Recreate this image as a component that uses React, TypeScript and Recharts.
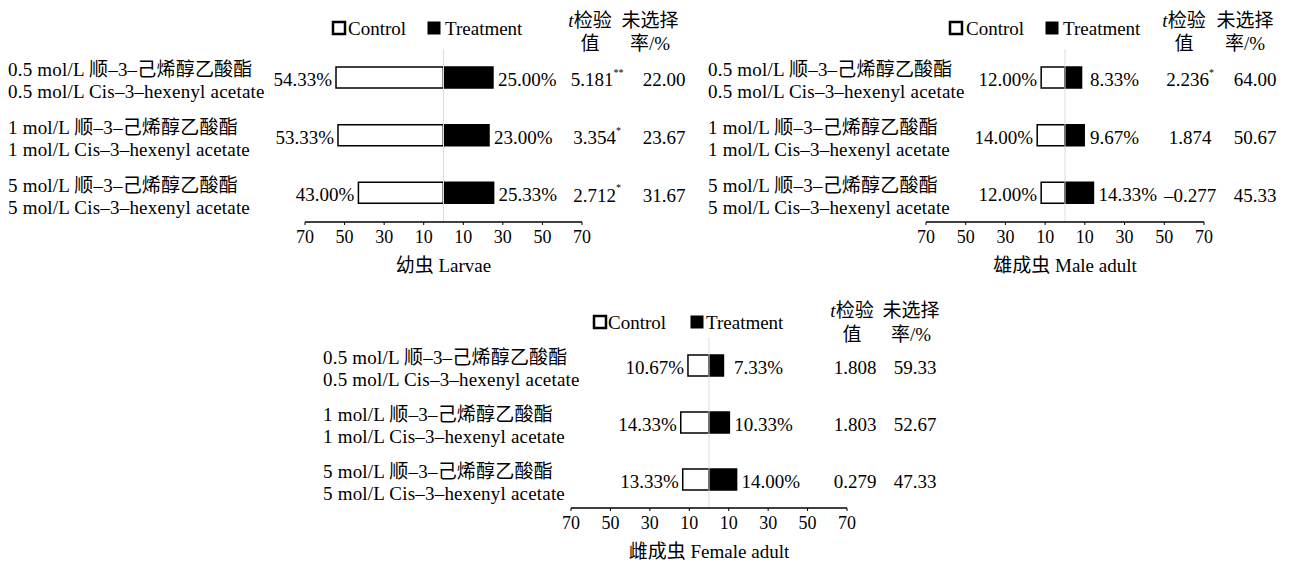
import React from 'react';
import { BarChart, Bar, XAxis, YAxis, ReferenceLine, LabelList } from 'recharts';

const categoriesCN = ['0.5 mol/L 顺–3–己烯醇乙酸酯', '1 mol/L 顺–3–己烯醇乙酸酯', '5 mol/L 顺–3–己烯醇乙酸酯'];
const categoriesEN = ['0.5 mol/L Cis–3–hexenyl acetate', '1 mol/L Cis–3–hexenyl acetate', '5 mol/L Cis–3–hexenyl acetate'];
const xTicks = [-70, -50, -30, -10, 10, 30, 50, 70];
const legendLabels = ['Control', 'Treatment'];

const larvaeControl = [54.33, 53.33, 43.0];
const larvaeTreatment = [25.0, 23.0, 25.33];
const larvaeT = ['5.181', '3.354', '2.712'];
const larvaeSig = ['**', '*', '*'];
const larvaeUnselected = ['22.00', '23.67', '31.67'];

const maleControl = [12.0, 14.0, 12.0];
const maleTreatment = [8.33, 9.67, 14.33];
const maleT = ['2.236', '1.874', '–0.277'];
const maleSig = ['*', '', ''];
const maleUnselected = ['64.00', '50.67', '45.33'];

const femaleControl = [10.67, 14.33, 13.33];
const femaleTreatment = [7.33, 10.33, 14.0];
const femaleT = ['1.808', '1.803', '0.279'];
const femaleSig = ['', '', ''];
const femaleUnselected = ['59.33', '52.67', '47.33'];

const FONT = '"Liberation Serif", "Times New Roman", "Noto Sans CJK SC", serif';
const FS = 19;
const TICK_FS = 18;

type Layout = {
  left: number; top: number; width: number; height: number;
  plotLeft: number; plotRight: number; plotTop: number; axisY: number;
  labelX: number; tX: number; rateX: number; tHeadX: number; rateHeadX: number;
  headY1: number; headY2: number; legendY: number;
  legSq1: number; legText1: number; legSq2: number; legText2: number;
};

type PanelProps = {
  title: string;
  control: number[];
  treatment: number[];
  tvals: string[];
  sig: string[];
  unselected: string[];
  L: Layout;
};

function Panel({ title, control, treatment, tvals, sig, unselected, L }: PanelProps) {
  const data = categoriesCN.map((name, i) => ({
    name,
    control: -control[i],
    treatment: treatment[i],
  }));
  const xAxisH = 50;
  const zeroX = (L.plotLeft + L.plotRight) / 2 - L.left;

  const CatTick = (props: any) => {
    const { y, payload } = props;
    const i = categoriesCN.indexOf(payload.value);
    const x = L.labelX - L.left;
    return (
      <g>
        <text x={x} y={y - 8} textAnchor="start" dominantBaseline="central" fontSize={FS} letterSpacing={0.2} fontFamily={FONT} fill="#000">
          {categoriesCN[i]}
        </text>
        <text x={x} y={y + 14} textAnchor="start" dominantBaseline="central" fontSize={FS} letterSpacing={0.2} fontFamily={FONT} fill="#000">
          {categoriesEN[i]}
        </text>
      </g>
    );
  };

  const StatTick = (props: any) => {
    const { y, payload } = props;
    const i = categoriesCN.indexOf(payload.value);
    return (
      <g>
        <text x={L.tX - L.left} y={y + 2} textAnchor="middle" dominantBaseline="central" fontSize={FS} fontFamily={FONT} fill="#000">
          {tvals[i]}
          {sig[i] ? <tspan fontSize={10} dy={-8}>{sig[i]}</tspan> : null}
        </text>
        <text x={L.rateX - L.left} y={y + 2} textAnchor="middle" dominantBaseline="central" fontSize={FS} fontFamily={FONT} fill="#000">
          {unselected[i]}
        </text>
      </g>
    );
  };

  const ControlLabel = (props: any) => {
    const { x, y, width, height, value } = props;
    const left = Math.min(x, x + width);
    return (
      <text x={left - 4} y={y + height / 2 + 2} textAnchor="end" dominantBaseline="central" fontSize={FS} fontFamily={FONT} fill="#000">
        {Math.abs(value).toFixed(2)}%
      </text>
    );
  };

  const TreatLabel = (props: any) => {
    const { x, y, width, height, value } = props;
    const right = Math.max(x, x + width);
    const lx = Math.max(right + 5, zeroX + 25);
    return (
      <text x={lx} y={y + height / 2 + 2} textAnchor="start" dominantBaseline="central" fontSize={FS} fontFamily={FONT} fill="#000">
        {Math.abs(value).toFixed(2)}%
      </text>
    );
  };

  return (
    <div style={{ position: 'absolute', left: L.left, top: L.top, width: L.width, height: L.height }}>
      <BarChart
        width={L.width}
        height={L.height}
        data={data}
        layout="vertical"
        stackOffset="sign"
        barSize={21}
        margin={{ top: L.plotTop - L.top, right: 0, bottom: L.height - (L.axisY - L.top) - xAxisH, left: 0 }}
      >
        <XAxis
          type="number"
          domain={[-70, 70]}
          ticks={xTicks}
          interval={0}
          allowDataOverflow
          tickFormatter={(v: number) => String(Math.abs(v))}
          height={xAxisH}
          axisLine={{ stroke: '#000', strokeWidth: 1.5 }}
          tickLine={{ stroke: '#000', strokeWidth: 1 }}
          tickSize={3}
          tickMargin={5}
          tick={{ fill: '#000', fontSize: TICK_FS, fontFamily: FONT }}
          label={{ value: title, position: 'insideBottom', offset: 0, fill: '#000', fontSize: FS, fontFamily: FONT }}
        />
        <YAxis
          yAxisId="left"
          type="category"
          dataKey="name"
          width={L.plotLeft - L.left}
          axisLine={false}
          tickLine={false}
          interval={0}
          tick={<CatTick />}
        />
        <YAxis
          yAxisId="right"
          orientation="right"
          type="category"
          dataKey="name"
          width={L.left + L.width - L.plotRight}
          axisLine={false}
          tickLine={false}
          interval={0}
          tick={<StatTick />}
        />
        <ReferenceLine x={0} yAxisId="left" stroke="#dcdcdc" strokeWidth={1} />
        <Bar dataKey="control" stackId="a" yAxisId="left" fill="#fff" stroke="#000" strokeWidth={1.5} isAnimationActive={false}>
          <LabelList dataKey="control" content={<ControlLabel />} />
        </Bar>
        <Bar dataKey="treatment" stackId="a" yAxisId="left" fill="#000" stroke="#000" strokeWidth={1.5} isAnimationActive={false}>
          <LabelList dataKey="treatment" content={<TreatLabel />} />
        </Bar>
      </BarChart>
      <svg
        width={L.width}
        height={L.height}
        style={{ position: 'absolute', left: 0, top: 0, pointerEvents: 'none' }}
      >
        <rect x={L.legSq1 - L.left} y={L.legendY - L.top - 6} width={12} height={12} fill="#fff" stroke="#000" strokeWidth={2.5} />
        <text x={L.legText1 - L.left} y={L.legendY - L.top} dominantBaseline="central" fontSize={FS} fontFamily={FONT} fill="#000">
          {legendLabels[0]}
        </text>
        <rect x={L.legSq2 - L.left} y={L.legendY - L.top - 6} width={12} height={12} fill="#000" stroke="#000" strokeWidth={1} />
        <text x={L.legText2 - L.left} y={L.legendY - L.top} dominantBaseline="central" fontSize={FS} fontFamily={FONT} fill="#000">
          {legendLabels[1]}
        </text>
        <text x={L.tHeadX - L.left} y={L.headY1 - L.top} textAnchor="middle" dominantBaseline="central" fontSize={FS} fontFamily={FONT} fill="#000">
          <tspan fontStyle="italic">t</tspan>检验
        </text>
        <text x={L.tHeadX - L.left} y={L.headY2 - L.top} textAnchor="middle" dominantBaseline="central" fontSize={FS} fontFamily={FONT} fill="#000">
          值
        </text>
        <text x={L.rateHeadX - L.left} y={L.headY1 - L.top} textAnchor="middle" dominantBaseline="central" fontSize={FS} fontFamily={FONT} fill="#000">
          未选择
        </text>
        <text x={L.rateHeadX - L.left} y={L.headY2 - L.top} textAnchor="middle" dominantBaseline="central" fontSize={FS} fontFamily={FONT} fill="#000">
          率/%
        </text>
      </svg>
    </div>
  );
}

const larvaeLayout: Layout = {
  left: 0, top: 0, width: 700, height: 280,
  plotLeft: 305, plotRight: 582, plotTop: 49, axisY: 222,
  labelX: 8, tX: 597, rateX: 664, tHeadX: 590, rateHeadX: 650,
  headY1: 20, headY2: 43, legendY: 28,
  legSq1: 333, legText1: 348, legSq2: 428, legText2: 445,
};

const maleLayout: Layout = {
  left: 690, top: 0, width: 601, height: 280,
  plotLeft: 926, plotRight: 1204, plotTop: 49, axisY: 222,
  labelX: 708, tX: 1190, rateX: 1255, tHeadX: 1184, rateHeadX: 1245,
  headY1: 20, headY2: 43, legendY: 28,
  legSq1: 950, legText1: 966, legSq2: 1046, legText2: 1063,
};

const femaleLayout: Layout = {
  left: 300, top: 290, width: 660, height: 275,
  plotLeft: 571, plotRight: 847, plotTop: 337, axisY: 508,
  labelX: 323, tX: 855, rateX: 915, tHeadX: 852, rateHeadX: 911,
  headY1: 310, headY2: 334, legendY: 322,
  legSq1: 594, legText1: 608, legSq2: 691, legText2: 706,
};

export default function App() {
  return (
    <div style={{ position: 'absolute', left: 0, top: 0, width: 1291, height: 565, background: '#fff', overflow: 'hidden' }}>
      <Panel title="幼虫 Larvae" control={larvaeControl} treatment={larvaeTreatment} tvals={larvaeT} sig={larvaeSig} unselected={larvaeUnselected} L={larvaeLayout} />
      <Panel title="雄成虫 Male adult" control={maleControl} treatment={maleTreatment} tvals={maleT} sig={maleSig} unselected={maleUnselected} L={maleLayout} />
      <Panel title="雌成虫 Female adult" control={femaleControl} treatment={femaleTreatment} tvals={femaleT} sig={femaleSig} unselected={femaleUnselected} L={femaleLayout} />
    </div>
  );
}
